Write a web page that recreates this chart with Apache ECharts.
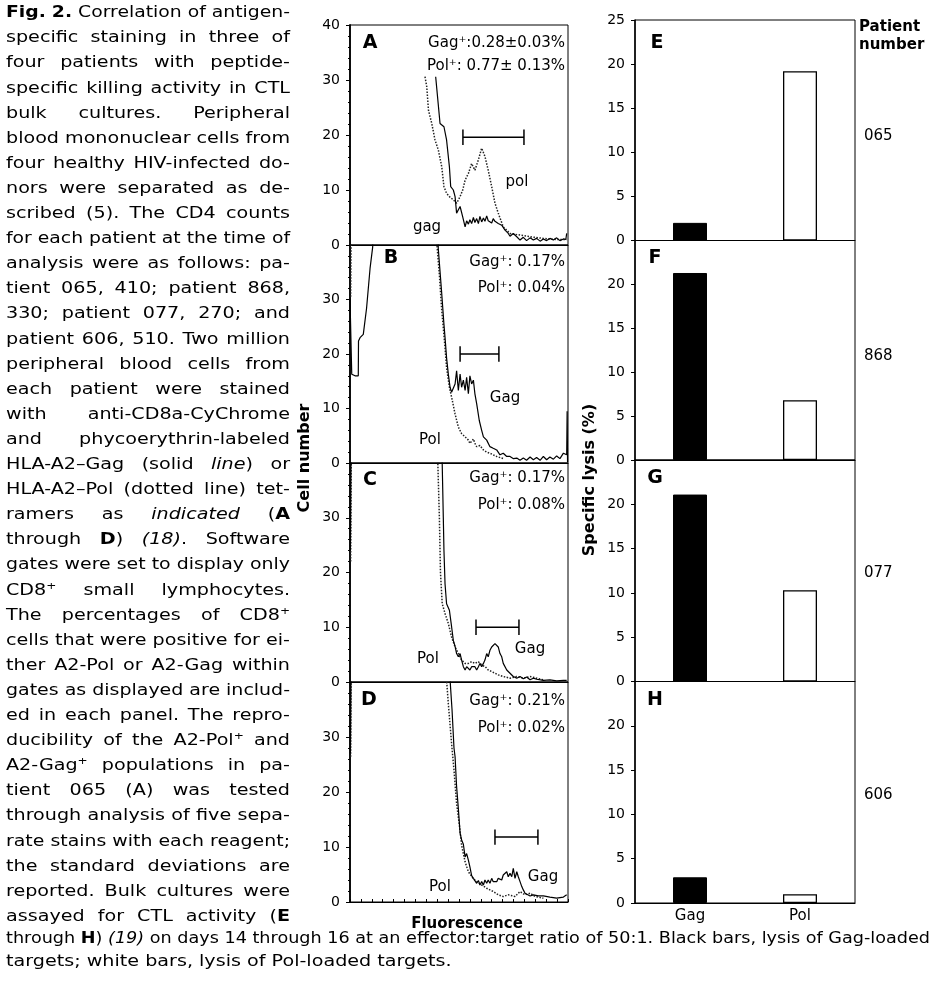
<!DOCTYPE html>
<html><head><meta charset="utf-8">
<script src="https://cdn.jsdelivr.net/npm/echarts@6/dist/echarts.min.js"></script>
<style>html,body{margin:0;padding:0;background:#fff}#c{width:935px;height:992px}</style>
</head><body><div id="c"></div>
<script>
// ---------------- DATA ----------------
const panelLetters = ['A','B','C','D'];
const barLetters = ['E','F','G','H'];
const patientNumbers = ['065','868','077','606'];
const barCategories = ['Gag','Pol'];
const gagLysis = [2.0, 21.3, 21.1, 2.9];
const polLysis = [19.2, 6.8, 10.3, 1.0];
const histYTicksMax = 40;
const barYTicksMax = 25;
const gagPercent = ['Gag\u207A:0.28\u00B10.03%','Gag\u207A: 0.17%','Gag\u207A: 0.17%','Gag\u207A: 0.21%'];
const polPercent = ['Pol\u207A: 0.77\u00B1 0.13%','Pol\u207A: 0.04%','Pol\u207A: 0.08%','Pol\u207A: 0.02%'];
const curveNames = [['gag','pol'],['Gag','Pol'],['Gag','Pol'],['Gag','Pol']];
// gates: [xStart, xEnd, level]
const gates = [[51.8,79.8,19.6],[50.5,68.3,20.0],[57.8,77.5,10.0],[66.5,86.2,11.8]];

const gagA = [[39.3,30.6],[41.3,22.1],[43.1,21.5],[44.3,19.1],[45.6,14.2],[46.2,10.6],[47.4,10.0],[48.2,8.8],[48.9,5.8],[50.5,7.0],[51.7,5.1],[52.8,3.3],[53.5,4.4],[54.3,3.8],[55.0,4.6],[55.8,3.9],[56.6,5.0],[57.3,4.1],[58.1,4.8],[58.9,3.9],[59.6,5.2],[60.4,4.2],[61.2,4.9],[61.9,4.3],[62.7,5.3],[63.4,4.4],[64.2,4.7],[65.0,4.0],[65.7,4.8],[66.5,4.3],[67.3,4.5],[68.0,3.9],[69.6,3.6],[71.1,2.7],[72.6,2.1],[73.4,1.6],[74.9,2.1],[76.5,1.5],[78.0,0.9],[79.5,1.4],[81.0,0.8],[82.6,1.3],[84.1,0.9],[85.6,1.2],[87.2,0.7],[88.7,1.1],[90.2,0.8],[91.7,1.2],[93.3,0.9],[94.8,1.3],[96.3,0.8],[97.9,1.1],[99.0,1.0],[99.4,2.1]];
const polA = [[34.4,30.6],[35.2,28.8],[36.0,24.5],[37.5,22.1],[39.0,19.1],[40.5,17.3],[42.1,14.2],[43.1,10.6],[44.3,9.4],[45.6,8.8],[47.4,8.2],[48.9,7.6],[50.5,8.8],[51.7,10.0],[52.8,11.8],[54.3,13.0],[55.8,14.8],[57.3,13.6],[58.9,15.5],[60.4,17.6],[61.9,16.1],[63.4,13.6],[65.0,10.6],[66.5,7.6],[68.0,5.8],[70.3,3.3],[73.4,2.1],[78.0,1.8],[82.6,1.5],[88.7,1.2],[94.8,1.0],[99.4,1.0]];
const gagB = [[0,30.2],[0.8,16.3],[2.3,16.0],[3.8,16.0],[3.9,22.4],[4.6,23.0],[6.1,23.6],[7.6,28.4],[9.2,35.7],[10.4,39.6],[10.8,45],[40.2,45],[40.5,39.3],[42.0,31.5],[43.1,25.4],[43.6,23.0],[44.3,19.3],[45.1,16.3],[45.9,13.9],[46.6,13.0],[47.4,13.3],[48.2,14.5],[48.9,16.9],[49.7,13.3],[50.5,16.3],[51.2,13.9],[52.0,15.2],[52.8,13.3],[53.5,15.7],[54.3,12.7],[55.0,16.0],[55.8,14.5],[56.6,15.2],[57.3,12.7],[58.1,10.9],[59.3,7.8],[60.4,6.0],[61.2,4.8],[62.7,4.2],[64.2,3.0],[65.7,2.7],[67.3,2.4],[68.8,1.5],[70.3,1.8],[71.9,1.2],[73.4,1.2],[75.0,0.8],[76.5,0.9],[78.0,0.5],[79.5,0.9],[81.0,0.5],[82.6,1.1],[84.1,0.6],[85.6,1.0],[87.2,0.5],[88.7,1.2],[90.2,0.6],[91.7,1.1],[93.3,0.7],[94.8,1.3],[96.3,0.8],[97.9,1.8],[99.4,1.5],[99.6,9.5],[99.8,0.2]];
const polB = [[0.3,30.5],[0.6,45],[39.5,45],[39.8,40.5],[41.0,34.5],[42.0,28.4],[42.8,24.8],[43.6,21.1],[44.3,17.5],[45.6,13.9],[46.6,12.1],[48.2,9.0],[49.7,6.6],[51.2,5.4],[52.8,4.8],[54.3,4.2],[55.0,3.6],[56.6,4.4],[57.3,3.6],[58.1,3.0],[59.6,3.2],[61.2,2.4],[62.7,2.0],[64.2,1.8],[65.7,1.5],[67.3,1.2],[70.3,0.8]];
const gagC = [[0.2,24],[0.5,45],[42.0,45],[42.3,39.8],[42.8,30.1],[43.1,24.0],[43.6,17.9],[44.3,14.3],[45.6,13.1],[46.6,10.1],[47.4,7.6],[48.2,6.5],[48.9,5.2],[49.7,4.6],[50.5,5.2],[51.2,4.0],[52.0,2.8],[52.8,2.2],[53.5,2.8],[54.3,2.8],[55.0,2.2],[55.8,2.8],[56.6,2.5],[57.3,2.8],[58.1,2.2],[58.9,2.8],[59.6,3.4],[60.4,2.8],[61.2,3.4],[61.9,4.0],[62.7,5.2],[63.4,4.6],[64.2,5.8],[65.0,6.4],[65.7,6.1],[66.5,7.0],[67.3,7.3],[68.0,6.4],[68.8,5.2],[69.6,4.6],[70.3,3.4],[71.1,3.1],[71.9,2.2],[73.4,1.6],[74.9,1.0],[76.5,0.7],[78.0,1.0],[79.5,0.6],[81.0,0.9],[82.6,0.4],[84.1,0.7],[85.6,0.5],[88.7,0.3],[91.7,0.4],[94.8,0.2],[97.9,0.3],[99.4,0.3]];
const polC = [[0.3,22],[0.6,45],[40.0,45],[40.3,39.8],[41.0,30.0],[41.5,20.0],[42.3,14.3],[43.6,12.5],[45.1,10.7],[46.6,8.2],[48.2,6.4],[49.7,5.2],[51.2,4.0],[52.8,3.4],[54.3,3.4],[55.8,3.7],[57.3,3.4],[58.9,3.7],[60.4,3.1],[62.0,2.8],[63.4,2.2],[65.0,1.9],[66.5,1.6],[68.0,1.3],[70.3,1.0],[73.4,0.7],[76.5,1.0],[79.5,0.7],[82.6,1.0],[85.6,0.7],[88.7,0.4]];
const gagD = [[0.2,27],[0.5,45],[45.9,45],[46.0,39.8],[46.8,35.0],[47.7,28.0],[48.2,26.4],[48.9,21.0],[49.7,17.0],[50.5,12.5],[51.2,11.3],[52.0,10.5],[52.8,8.2],[53.5,8.8],[54.3,7.6],[55.0,6.4],[55.8,4.8],[56.6,4.3],[57.3,4.0],[58.1,3.4],[58.9,3.9],[59.6,3.1],[60.4,3.7],[61.2,3.1],[61.9,4.0],[62.7,3.4],[63.4,4.0],[64.2,3.4],[65.0,4.3],[65.7,3.7],[66.5,4.0],[67.3,3.7],[68.0,4.3],[68.8,4.6],[69.6,4.0],[70.3,4.9],[71.1,4.6],[71.9,5.5],[72.6,4.6],[73.4,5.2],[74.2,4.6],[74.9,6.1],[75.7,4.3],[76.5,5.5],[77.2,4.6],[78.0,3.7],[78.8,2.8],[79.5,2.2],[80.3,1.6],[81.0,1.3],[82.6,1.1],[84.1,1.3],[86.4,1.1],[88.7,1.1],[91.7,0.9],[94.8,0.7],[97.9,0.9],[99.4,1.3]];
const polD = [[0.3,26.4],[0.6,45],[44.3,45],[44.4,39.8],[45.1,36.1],[46.6,28.8],[47.7,24.0],[48.9,17.9],[50.2,13.9],[51.2,10.3],[52.8,7.3],[54.3,5.5],[56.6,4.2],[59.6,3.3],[62.7,2.5],[65.7,1.9],[68.0,1.3],[70.3,1.0],[72.6,1.3],[75.7,1.0],[78.0,1.9],[80.3,1.3],[82.6,1.6],[84.9,1.0],[88.7,0.7]];
const gagCurves = [gagA, gagB, gagC, gagD];
const polCurves = [polA, polB, polC, polD];

const captionLines = [
 "**Fig. 2.** Correlation of antigen-",
 "specific staining in three of",
 "four patients with peptide-",
 "specific killing activity in CTL",
 "bulk cultures. Peripheral",
 "blood mononuclear cells from",
 "four healthy HIV-infected do-",
 "nors were separated as de-",
 "scribed (5). The CD4 counts",
 "for each patient at the time of",
 "analysis were as follows: pa-",
 "tient 065, 410; patient 868,",
 "330; patient 077, 270; and",
 "patient 606, 510. Two million",
 "peripheral blood cells from",
 "each patient were stained",
 "with anti-CD8a-CyChrome",
 "and phycoerythrin-labeled",
 "HLA-A2\u2013Gag (solid _line_) or",
 "HLA-A2\u2013Pol (dotted line) tet-",
 "ramers as _indicated_ (**A**",
 "through **D**) _(18)_. Software",
 "gates were set to display only",
 "CD8\u207A small lymphocytes.",
 "The percentages of CD8\u207A",
 "cells that were positive for ei-",
 "ther A2-Pol or A2-Gag within",
 "gates as displayed are includ-",
 "ed in each panel. The repro-",
 "ducibility of the A2-Pol\u207A and",
 "A2-Gag\u207A populations in pa-",
 "tient 065 (A) was tested",
 "through analysis of five sepa-",
 "rate stains with each reagent;",
 "the standard deviations are",
 "reported. Bulk cultures were",
 "assayed for CTL activity (**E**"
];
const captionBottom = [
 "through **H**) _(19)_ on days 14 through 16 at an effector:target ratio of 50:1. Black bars, lysis of Gag-loaded",
 "targets; white bars, lysis of Pol-loaded targets."
];

// ---------------- LAYOUT ----------------
const FONT = '"DejaVu Sans", sans-serif';
const HIST = {left:350, width:218, bounds:[[25,245],[245,463],[463,682],[682,902]]};
const BAR = {left:635, width:220, bounds:[[20,240.5],[240.5,460],[460,681.5],[681.5,903]]};
const histLetterPos = [[370,43],[391,258],[370,480],[369,700]];
const pctY = [[43,66],[262,288],[478,505],[701,728]];
const curveLabelPos = [[[427,227],[517,182]],[[505,398],[430,440]],[[530,649],[428,659]],[[543,877],[440,887]]];
const barLetterPos = [[657,43],[655,258],[655,478],[655,700]];
const patientY = [136,356,573,795];

const grids=[], xAxes=[], yAxes=[], series=[], graphics=[];
function txt(x,y,text,opt){
  opt = opt||{};
  const o = {type:'text', x:x, y:y, silent:true, style:{text:text, fill:'#000',
    font:(opt.italic?'italic ':'')+(opt.bold?'bold ':'')+(opt.size||15)+'px '+FONT,
    textAlign:opt.align||'left', textVerticalAlign:'middle', align:opt.align||'left', verticalAlign:'middle'}};
  if (opt.rotation) o.rotation = opt.rotation;
  graphics.push(o);
}

for (let i=0;i<4;i++){
  const [t,b] = HIST.bounds[i];
  grids.push({left:HIST.left, top:t, width:HIST.width, height:b-t, show:true, borderColor:'#000', borderWidth:1, backgroundColor:'transparent', outerBoundsMode:'none', containLabel:false});
  xAxes.push({gridIndex:i, type:'value', min:0, max:100, interval:5,
    axisLine:{show:true, lineStyle:{color:'#000', width:1.2}},
    axisTick:{show:i===3, inside:true, length:3, lineStyle:{color:'#000'}},
    axisLabel:{show:false}, splitLine:{show:false}});
  yAxes.push({gridIndex:i, type:'value', min:0, max:histYTicksMax, interval:10,
    axisLine:{show:true, lineStyle:{color:'#000', width:1.8}},
    axisTick:{show:true, length:4, lineStyle:{color:'#000'}},
    minorTick:{show:true, splitNumber:5, length:2, lineStyle:{color:'#000'}},
    axisLabel:{color:'#000', fontFamily:FONT, fontSize:14, margin:10,
      formatter:(v)=> (i===0 || v<histYTicksMax) ? String(v) : ''},
    splitLine:{show:false}});
  series.push({type:'line', xAxisIndex:i, yAxisIndex:i, data:polCurves[i], showSymbol:false, symbol:'none', clip:true, animation:false,
    lineStyle:{color:'#222', width:1.5, type:'dotted'}, z:2});
  series.push({type:'line', xAxisIndex:i, yAxisIndex:i, data:gagCurves[i], showSymbol:false, symbol:'none', clip:true, animation:false,
    lineStyle:{color:'#000', width:1.2, type:'solid'}, z:3});
  const [g1,g2,gy] = gates[i]; const c = 1.4;
  series.push({type:'line', xAxisIndex:i, yAxisIndex:i, showSymbol:false, symbol:'none', animation:false,
    data:[[g1,gy+c],[g1,gy-c],[g1,gy],[g2,gy],[g2,gy+c],[g2,gy-c]],
    lineStyle:{color:'#000', width:1.5}, z:4});
  txt(histLetterPos[i][0], histLetterPos[i][1], panelLetters[i], {bold:true, size:19, align:'center'});
  txt(565, pctY[i][0], gagPercent[i], {size:15, align:'right'});
  txt(565, pctY[i][1], polPercent[i], {size:15, align:'right'});
  txt(curveLabelPos[i][0][0], curveLabelPos[i][0][1], curveNames[i][0], {size:15, align:'center'});
  txt(curveLabelPos[i][1][0], curveLabelPos[i][1][1], curveNames[i][1], {size:15, align:'center'});
}
for (let i=0;i<4;i++){
  const gi = 4+i;
  const [t,b] = BAR.bounds[i];
  grids.push({left:BAR.left, top:t, width:BAR.width, height:b-t, show:true, borderColor:'#000', borderWidth:1, backgroundColor:'transparent', outerBoundsMode:'none', containLabel:false});
  xAxes.push({gridIndex:gi, type:'category', data:barCategories,
    axisLine:{show:true, lineStyle:{color:'#000', width:1.2}},
    axisTick:{show:false},
    axisLabel:{show:i===3, color:'#000', fontFamily:FONT, fontSize:15, margin:6}, splitLine:{show:false}});
  yAxes.push({gridIndex:gi, type:'value', min:0, max:barYTicksMax, interval:5,
    axisLine:{show:true, lineStyle:{color:'#000', width:1.5}},
    axisTick:{show:true, length:4, lineStyle:{color:'#000'}},
    axisLabel:{color:'#000', fontFamily:FONT, fontSize:14, margin:10,
      formatter:(v)=> (i===0 || v<barYTicksMax) ? String(v) : ''},
    splitLine:{show:false}});
  series.push({type:'bar', xAxisIndex:gi, yAxisIndex:gi, barWidth:34, animation:false,
    data:[{value:gagLysis[i], itemStyle:{color:'#000', borderColor:'#000', borderWidth:1}},
          {value:polLysis[i], itemStyle:{color:'#fff', borderColor:'#000', borderWidth:1.3}}]});
  txt(barLetterPos[i][0], barLetterPos[i][1], barLetters[i], {bold:true, size:19, align:'center'});
  txt(864, patientY[i], patientNumbers[i], {size:15});
}
txt(859, 27, 'Patient', {bold:true, size:15});
txt(859, 45, 'number', {bold:true, size:15});
txt(305, 458, 'Cell number', {bold:true, size:16, align:'center', rotation:Math.PI/2});
txt(590, 480, 'Specific lysis (%)', {bold:true, size:16, align:'center', rotation:Math.PI/2});
txt(467, 924, 'Fluorescence', {bold:true, size:15, align:'center'});

// ---------------- CAPTION (justified, horizontally widened glyphs) ----------------
const mctx = document.createElement('canvas').getContext('2d');
function segFont(s, size){ return (s.i?'italic ':'')+(s.b?'bold ':'')+size+'px '+FONT; }
function measure(s, size){ mctx.font = segFont(s,size); return mctx.measureText(s.t).width; }
function parseLine(str){
  const runs=[]; const re=/\*\*(.+?)\*\*|_(.+?)_|([^*_]+)/g; let m;
  while((m=re.exec(str))){
    if(m[1]!==undefined) runs.push({t:m[1],b:true});
    else if(m[2]!==undefined) runs.push({t:m[2],i:true});
    else runs.push({t:m[3]});
  }
  const words=[]; let cur=[];
  runs.forEach(r=>{ r.t.split(' ').forEach((p,k)=>{ if(k>0){ if(cur.length) words.push(cur); cur=[]; } if(p) cur.push({t:p,b:r.b,i:r.i}); }); });
  if(cur.length) words.push(cur);
  return words;
}
function layoutLine(str, x0, x1, y, justify, size, maxScale){
  const words = parseLine(str);
  const ws = words.map(w=>w.reduce((a,s)=>a+measure(s,size),0));
  const W = ws.reduce((a,b)=>a+b,0);
  mctx.font = size+'px '+FONT; const sp = mctx.measureText(' ').width;
  const natural = W + sp*(words.length-1);
  const s = Math.min(maxScale, (x1-x0)/natural);
  let gap = sp*s;
  if (justify && words.length>1) gap = ((x1-x0) - s*W)/(words.length-1);
  let x = x0;
  words.forEach((w,k)=>{
    let xx = x;
    w.forEach(seg=>{
      graphics.push({type:'text', x:xx, y:y, scaleX:s, scaleY:1, silent:true,
        style:{text:seg.t, fill:'#000', font:segFont(seg,size), textAlign:'left', align:'left', textVerticalAlign:'middle', verticalAlign:'middle'}});
      xx += measure(seg,size)*s;
    });
    x += ws[k]*s + gap;
  });
}
const CAP = {x0:6, x1:290, y0:13, pitch:25.1, size:16.5, maxScale:1.16};
captionLines.forEach((l,k)=> layoutLine(l, CAP.x0, CAP.x1, CAP.y0 + k*CAP.pitch, true, CAP.size, CAP.maxScale));
layoutLine(captionBottom[0], 6, 930, 939, true, CAP.size, CAP.maxScale);
layoutLine(captionBottom[1], 6, 930, 962, false, CAP.size, CAP.maxScale);

const chart = echarts.init(document.getElementById('c'));
chart.setOption({
  animation:false, backgroundColor:'#fff',
  grid:grids, xAxis:xAxes, yAxis:yAxes, series:series,
  graphic:{elements:graphics}
});
</script></body></html>
